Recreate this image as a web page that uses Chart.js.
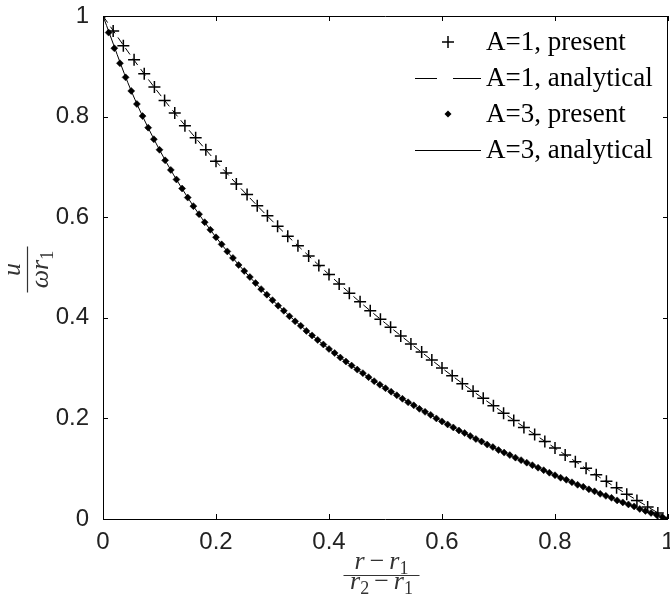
<!DOCTYPE html>
<html><head><meta charset="utf-8">
<script src="https://cdn.jsdelivr.net/npm/chart.js@4.4.1/dist/chart.umd.min.js"></script>
<style>html,body{margin:0;padding:0;background:#fff;overflow:hidden}canvas{display:block}</style>
</head><body>
<canvas id="c" width="670" height="594"></canvas>
<script>
// ---- data ----
const seriesLabels = ['A=1, present', 'A=1, analytical', 'A=3, present', 'A=3, analytical'];
const xTicks = [0, 0.2, 0.4, 0.6, 0.8, 1];
const yTicks = [0, 0.2, 0.4, 0.6, 0.8, 1];

const xA1 = [0, 0.018, 0.036, 0.055, 0.073, 0.091, 0.109, 0.127, 0.145, 0.164, 0.182, 0.2, 0.218, 0.236, 0.255, 0.273, 0.291, 0.309, 0.327, 0.345, 0.364, 0.382, 0.4, 0.418, 0.436, 0.455, 0.473, 0.491, 0.509, 0.527, 0.545, 0.564, 0.582, 0.6, 0.618, 0.636, 0.655, 0.673, 0.691, 0.709, 0.727, 0.745, 0.764, 0.782, 0.8, 0.818, 0.836, 0.855, 0.873, 0.891, 0.909, 0.927, 0.945, 0.964, 0.982, 1];
const yA1Present = [1, 0.970, 0.941, 0.913, 0.885, 0.859, 0.832, 0.807, 0.782, 0.758, 0.734, 0.711, 0.688, 0.666, 0.645, 0.623, 0.603, 0.582, 0.562, 0.543, 0.523, 0.504, 0.486, 0.467, 0.449, 0.432, 0.414, 0.397, 0.381, 0.364, 0.348, 0.332, 0.316, 0.300, 0.285, 0.269, 0.254, 0.240, 0.225, 0.210, 0.196, 0.182, 0.168, 0.154, 0.141, 0.127, 0.114, 0.101, 0.088, 0.075, 0.062, 0.049, 0.037, 0.024, 0.012, 0];

const xA3 = [0, 0.01, 0.02, 0.03, 0.04, 0.05, 0.06, 0.07, 0.08, 0.09, 0.1, 0.11, 0.12, 0.13, 0.14, 0.15, 0.16, 0.17, 0.18, 0.19, 0.2, 0.21, 0.22, 0.23, 0.24, 0.25, 0.26, 0.27, 0.28, 0.29, 0.3, 0.31, 0.32, 0.33, 0.34, 0.35, 0.36, 0.37, 0.38, 0.39, 0.4, 0.41, 0.42, 0.43, 0.44, 0.45, 0.46, 0.47, 0.48, 0.49, 0.5, 0.51, 0.52, 0.53, 0.54, 0.55, 0.56, 0.57, 0.58, 0.59, 0.6, 0.61, 0.62, 0.63, 0.64, 0.65, 0.66, 0.67, 0.68, 0.69, 0.7, 0.71, 0.72, 0.73, 0.74, 0.75, 0.76, 0.77, 0.78, 0.79, 0.8, 0.81, 0.82, 0.83, 0.84, 0.85, 0.86, 0.87, 0.88, 0.89, 0.9, 0.91, 0.92, 0.93, 0.94, 0.95, 0.96, 0.97, 0.98, 0.99, 1];
const yA3Present = [1, 0.967, 0.936, 0.906, 0.878, 0.851, 0.825, 0.801, 0.778, 0.755,
  0.734, 0.713, 0.694, 0.675, 0.657, 0.639, 0.622, 0.606, 0.590, 0.575,
  0.560, 0.546, 0.532, 0.519, 0.505, 0.493, 0.481, 0.469, 0.457, 0.446,
  0.435, 0.424, 0.414, 0.403, 0.393, 0.384, 0.374, 0.365, 0.356, 0.347,
  0.338, 0.330, 0.321, 0.313, 0.305, 0.297, 0.290, 0.282, 0.274, 0.267,
  0.260, 0.253, 0.246, 0.239, 0.232, 0.226, 0.219, 0.213, 0.207, 0.200,
  0.194, 0.188, 0.182, 0.176, 0.171, 0.165, 0.159, 0.154, 0.148, 0.143,
  0.137, 0.132, 0.127, 0.122, 0.117, 0.112, 0.107, 0.102, 0.097, 0.092,
  0.087, 0.082, 0.078, 0.073, 0.068, 0.064, 0.059, 0.055, 0.050, 0.046,
  0.042, 0.037, 0.033, 0.029, 0.025, 0.020, 0.016, 0.012, 0.008, 0.004, 0];

const xAnalytic = [0, 0.05, 0.1, 0.15, 0.2, 0.25, 0.3, 0.35, 0.4, 0.45, 0.5, 0.55, 0.6, 0.65, 0.7, 0.75, 0.8, 0.85, 0.9, 0.95, 1];
const yA1Analytic = [1, 0.920, 0.845, 0.776, 0.711, 0.650, 0.592, 0.538, 0.486, 0.436, 0.389, 0.344, 0.300, 0.258, 0.218, 0.179, 0.141, 0.104, 0.068, 0.034, 0];
const yA3Analytic = [1, 0.851, 0.734, 0.639, 0.560, 0.493, 0.435, 0.384, 0.338, 0.297, 0.260, 0.226, 0.194, 0.165, 0.137, 0.112, 0.087, 0.064, 0.042, 0.020, 0];

// ---- helpers ----
const pts = (xs, ys) => xs.map((x, i) => ({ x: x, y: ys[i] }));

function drawMath(ctx, parts, x, y) {
  const base = 26, subSize = 18;
  let w = 0;
  const items = parts.map(p => {
    const size = p.sub ? subSize : base;
    const font = (p.it ? 'italic ' : '') + size + 'px "Liberation Serif"';
    ctx.font = font;
    const width = ctx.measureText(p.t).width;
    const it = { t: p.t, sub: p.sub, font: font, width: width, pre: p.pre || 0 };
    w += it.pre + width;
    return it;
  });
  let cx = x - w / 2;
  items.forEach(it => {
    cx += it.pre;
    ctx.font = it.font;
    ctx.fillText(it.t, cx, y + (it.sub ? 5 : 0));
    cx += it.width;
  });
  return w;
}

// box frame with inward tick marks on all four sides, placed through the scales
const framePlugin = {
  id: 'boxFrame',
  afterDatasetsDraw(chart) {
    const ctx = chart.ctx;
    const { left, right, top, bottom } = chart.chartArea;
    const sx = chart.scales.x, sy = chart.scales.y;
    const tl = 5;
    ctx.save();
    ctx.strokeStyle = '#000';
    ctx.lineWidth = 1;
    ctx.beginPath();
    ctx.rect(Math.round(left) + 0.5, Math.round(top) + 0.5, Math.round(right - left) - 1, Math.round(bottom - top));
    sx.ticks.forEach(t => {
      const px = Math.round(sx.getPixelForValue(t.value)) + 0.5;
      ctx.moveTo(px, bottom); ctx.lineTo(px, bottom - tl);
      ctx.moveTo(px, top); ctx.lineTo(px, top + tl);
    });
    sy.ticks.forEach(t => {
      const py = Math.round(sy.getPixelForValue(t.value)) + 0.5;
      ctx.moveTo(left, py); ctx.lineTo(left + tl, py);
      ctx.moveTo(right, py); ctx.lineTo(right - tl, py);
    });
    ctx.stroke();
    ctx.restore();
  }
};

const titlesPlugin = {
  id: 'fractionTitles',
  afterDraw(chart) {
    const ctx = chart.ctx;
    const ca = chart.chartArea;
    ctx.save();
    ctx.fillStyle = '#333';
    ctx.strokeStyle = '#333';
    ctx.textBaseline = 'alphabetic';
    ctx.textAlign = 'left';
    // x title
    const cx = (ca.left + ca.right) / 2 - 4;
    drawMath(ctx, [{ t: 'r', it: 1 }, { t: '\u2212', pre: 5 }, { t: 'r', it: 1, pre: 5 }, { t: '1', sub: 1 }], cx, 569);
    ctx.lineWidth = 1.2;
    ctx.beginPath(); ctx.moveTo(cx - 38, 575.5); ctx.lineTo(cx + 38, 575.5); ctx.stroke();
    drawMath(ctx, [{ t: 'r', it: 1 }, { t: '2', sub: 1 }, { t: '\u2212', pre: 5 }, { t: 'r', it: 1, pre: 5 }, { t: '1', sub: 1 }], cx, 589);
    // y title (rotated)
    const cy = (ca.top + ca.bottom) / 2 + 2;
    ctx.translate(27, cy);
    ctx.rotate(-Math.PI / 2);
    drawMath(ctx, [{ t: 'u', it: 1 }], 0, -7);
    ctx.beginPath(); ctx.moveTo(-23, 0.5); ctx.lineTo(23, 0.5); ctx.stroke();
    drawMath(ctx, [{ t: '\u03c9', it: 1 }, { t: 'r', it: 1 }, { t: '1', sub: 1 }], 0, 21);
    ctx.restore();
  }
};

const legendPlugin = {
  id: 'inlineLegend',
  afterDatasetsDraw(chart) {
    const ctx = chart.ctx;
    const symX = 448, textX = 486, y0 = 42, dy = 36;
    ctx.save();
    chart.data.datasets.forEach((d, i) => {
      const y = y0 + i * dy;
      ctx.strokeStyle = '#000';
      ctx.fillStyle = '#000';
      if (d.showLine === false) {
        if (d.pointStyle === 'cross') {
          const r = 6;
          ctx.lineWidth = d.borderWidth;
          ctx.beginPath();
          ctx.moveTo(symX - r, y); ctx.lineTo(symX + r, y);
          ctx.moveTo(symX, y - r); ctx.lineTo(symX, y + r);
          ctx.stroke();
        } else {
          const r = 3.5;
          ctx.beginPath();
          ctx.moveTo(symX, y - r); ctx.lineTo(symX + r, y); ctx.lineTo(symX, y + r); ctx.lineTo(symX - r, y);
          ctx.closePath(); ctx.fill();
        }
      } else {
        ctx.lineWidth = d.borderWidth;
        ctx.beginPath();
        if (d.borderDash && d.borderDash.length) {
          ctx.moveTo(415, y + 0.5); ctx.lineTo(437, y + 0.5);
          ctx.moveTo(453, y + 0.5); ctx.lineTo(481, y + 0.5);
        } else {
          ctx.moveTo(415, y + 0.5); ctx.lineTo(481, y + 0.5);
        }
        ctx.stroke();
      }
      ctx.font = '27px "Liberation Serif"';
      ctx.textBaseline = 'middle';
      ctx.textAlign = 'left';
      ctx.fillText(d.label, textX, y + 1);
    });
    ctx.restore();
  }
};

const tickFont = { family: 'Liberation Sans', size: 24 };
const noPad = s => { s.paddingLeft = 0; s.paddingRight = 0; s.paddingTop = 0; s.paddingBottom = 0; };

new Chart(document.getElementById('c'), {
  type: 'scatter',
  data: {
    datasets: [
      { label: seriesLabels[0], data: pts(xA1, yA1Present), showLine: false, pointStyle: 'cross', pointRadius: 6, borderWidth: 1.5, borderColor: '#000', backgroundColor: '#000' },
      { label: seriesLabels[1], data: pts(xAnalytic, yA1Analytic), showLine: true, pointRadius: 0, borderWidth: 1, borderColor: '#000', borderDash: [8, 5], cubicInterpolationMode: 'monotone', fill: false },
      { label: seriesLabels[2], data: pts(xA3, yA3Present), showLine: false, pointStyle: 'rectRot', pointRadius: 3.5, borderWidth: 0.5, borderColor: '#000', backgroundColor: '#000' },
      { label: seriesLabels[3], data: pts(xAnalytic, yA3Analytic), showLine: true, pointRadius: 0, borderWidth: 1, borderColor: '#000', cubicInterpolationMode: 'monotone', fill: false }
    ]
  },
  options: {
    responsive: false,
    animation: false,
    devicePixelRatio: 1,
    events: [],
    layout: { autoPadding: false, padding: { left: 0, right: 2, top: 16, bottom: 0 } },
    plugins: { legend: { display: false }, tooltip: { enabled: false } },
    scales: {
      x: {
        type: 'linear', position: 'bottom', min: 0, max: 1,
        afterFit: s => { s.height = 75; noPad(s); },
        afterBuildTicks: s => { s.ticks = xTicks.map(v => ({ value: v })); },
        ticks: { callback: v => String(v), font: tickFont, color: '#222', padding: 1, maxRotation: 0, autoSkip: false },
        grid: { display: false },
        border: { display: false }
      },
      y: {
        type: 'linear', position: 'left', min: 0, max: 1,
        afterFit: s => { s.width = 103; noPad(s); },
        afterBuildTicks: s => { s.ticks = yTicks.map(v => ({ value: v })); },
        ticks: { callback: v => String(v), font: tickFont, color: '#222', padding: 6, autoSkip: false },
        grid: { display: false },
        border: { display: false }
      }
    }
  },
  plugins: [framePlugin, legendPlugin, titlesPlugin]
});
</script>
</body></html>
